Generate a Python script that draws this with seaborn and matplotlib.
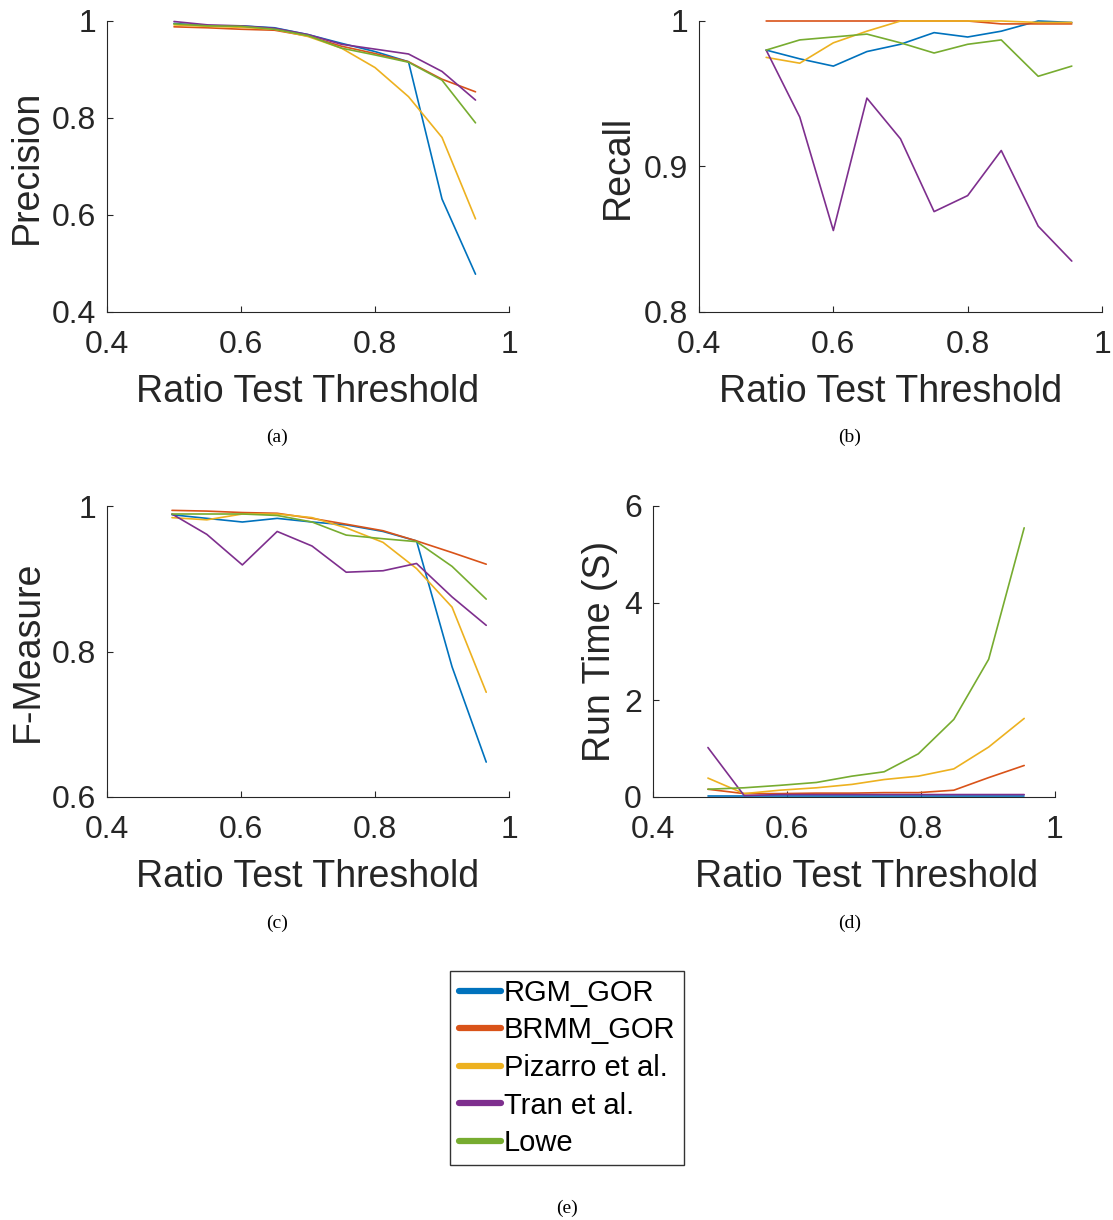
import numpy as np
import pandas as pd
import matplotlib
matplotlib.use("Agg")
import matplotlib.pyplot as plt
import seaborn as sns
from matplotlib.lines import Line2D

sns.set_style("white")
plt.rcParams['font.family'] = ['Liberation Sans', 'DejaVu Sans']

methods = ["RGM_GOR", "BRMM_GOR", "Pizarro et al.", "Tran et al.", "Lowe"]
colors = ["#0072BD", "#D95319", "#EDB120", "#7E2F8E", "#77AC30"]

# x positions (ratio test threshold)
x_prec = [0.50, 0.55, 0.60, 0.65, 0.70, 0.75, 0.80, 0.85, 0.90, 0.95]
x_rec = [0.50, 0.55, 0.60, 0.65, 0.70, 0.75, 0.80, 0.85, 0.905, 0.955]
x_fm = [0.497, 0.549, 0.602, 0.654, 0.706, 0.757, 0.812, 0.862, 0.915, 0.966]
x_rt = [0.482, 0.536, 0.589, 0.644, 0.697, 0.745, 0.796, 0.849, 0.901, 0.954]

# Precision
prec_rgm = [0.995, 0.990, 0.990, 0.986, 0.972, 0.954, 0.937, 0.916, 0.633, 0.478]
prec_brmm = [0.988, 0.986, 0.983, 0.981, 0.969, 0.948, 0.933, 0.916, 0.880, 0.854]
prec_piz = [0.992, 0.989, 0.987, 0.983, 0.968, 0.944, 0.904, 0.844, 0.760, 0.592]
prec_tran = [0.999, 0.992, 0.990, 0.985, 0.972, 0.952, 0.942, 0.932, 0.896, 0.837]
prec_lowe = [0.994, 0.990, 0.989, 0.983, 0.970, 0.944, 0.930, 0.915, 0.878, 0.790]

# Recall
rec_rgm = [0.980, 0.974, 0.969, 0.979, 0.984, 0.992, 0.989, 0.993, 1.000, 0.999]
rec_brmm = [1.000, 1.000, 1.000, 1.000, 1.000, 1.000, 1.000, 0.998, 0.998, 0.998]
rec_piz = [0.975, 0.971, 0.985, 0.993, 1.000, 1.000, 1.000, 1.000, 0.999, 0.999]
rec_tran = [0.980, 0.934, 0.856, 0.947, 0.919, 0.869, 0.880, 0.911, 0.859, 0.835]
rec_lowe = [0.980, 0.987, 0.989, 0.991, 0.985, 0.978, 0.984, 0.987, 0.962, 0.969]

# F-Measure
fm_rgm = [0.988, 0.983, 0.978, 0.983, 0.978, 0.974, 0.965, 0.952, 0.779, 0.648]
fm_brmm = [0.994, 0.993, 0.991, 0.990, 0.983, 0.975, 0.966, 0.952, 0.936, 0.920]
fm_piz = [0.984, 0.981, 0.989, 0.989, 0.984, 0.970, 0.950, 0.914, 0.861, 0.744]
fm_tran = [0.989, 0.961, 0.919, 0.965, 0.945, 0.909, 0.911, 0.921, 0.875, 0.836]
fm_lowe = [0.989, 0.989, 0.989, 0.987, 0.978, 0.960, 0.955, 0.951, 0.917, 0.872]

# Run time (s)
rt_rgm = [0.02, 0.02, 0.02, 0.02, 0.02, 0.02, 0.02, 0.02, 0.02, 0.02]
rt_brmm = [0.16, 0.07, 0.07, 0.08, 0.08, 0.09, 0.09, 0.14, 0.40, 0.65]
rt_piz = [0.39, 0.07, 0.14, 0.19, 0.26, 0.36, 0.43, 0.58, 1.03, 1.62]
rt_tran = [1.02, 0.03, 0.05, 0.05, 0.05, 0.05, 0.05, 0.05, 0.05, 0.05]
rt_lowe = [0.16, 0.19, 0.24, 0.30, 0.43, 0.52, 0.89, 1.60, 2.84, 5.55]


def long_df(x, series):
    rows = []
    for m, vals in zip(methods, series):
        for xi, yi in zip(x, vals):
            rows.append({"x": xi, "y": yi, "method": m})
    return pd.DataFrame(rows)


W, H = 1113, 1220
fig = plt.figure(figsize=(W / 100, H / 100), dpi=100)


def px_axes(l, r, t, b):
    return fig.add_axes([l / W, 1 - b / H, (r - l) / W, (b - t) / H])


panels = [
    dict(box=(107, 509, 21, 312), x=x_prec, s=[prec_rgm, prec_brmm, prec_piz, prec_tran, prec_lowe],
         ylim=(0.4, 1), yt=[0.4, 0.6, 0.8, 1], ytl=["0.4", "0.6", "0.8", "1"], yl="Precision",
         ylx=-0.199, xlx=0.5, cap="(a)", capxy=(277, 437)),
    dict(box=(699, 1102, 21, 312), x=x_rec, s=[rec_rgm, rec_brmm, rec_piz, rec_tran, rec_lowe],
         ylim=(0.8, 1), yt=[0.8, 0.9, 1], ytl=["0.8", "0.9", "1"], yl="Recall",
         ylx=-0.201, xlx=0.476, cap="(b)", capxy=(850, 437)),
    dict(box=(107, 509, 506, 797), x=x_fm, s=[fm_rgm, fm_brmm, fm_piz, fm_tran, fm_lowe],
         ylim=(0.6, 1), yt=[0.6, 0.8, 1], ytl=["0.6", "0.8", "1"], yl="F-Measure",
         ylx=-0.197, xlx=0.5, cap="(c)", capxy=(277, 923)),
    dict(box=(653, 1055, 506, 797), x=x_rt, s=[rt_rgm, rt_brmm, rt_piz, rt_tran, rt_lowe],
         ylim=(0, 6), yt=[0, 2, 4, 6], ytl=["0", "2", "4", "6"], yl="Run Time (S)",
         ylx=-0.132, xlx=0.532, cap="(d)", capxy=(850, 923)),
]

axc = "#262626"
for p in panels:
    ax = px_axes(*p["box"])
    df = long_df(p["x"], p["s"])
    sns.lineplot(data=df, x="x", y="y", hue="method", hue_order=methods,
                 palette=colors, linewidth=1.2, legend=False, ax=ax, sort=True)
    for ln in ax.get_lines():
        ln.set_clip_on(False)
    ax.set_xlim(0.4, 1)
    ax.set_ylim(*p["ylim"])
    ax.set_xticks([0.4, 0.6, 0.8, 1])
    ax.set_xticklabels(["0.4", "0.6", "0.8", "1"])
    ax.set_yticks(p["yt"])
    ax.set_yticklabels(p["ytl"])
    for s in ["top", "right"]:
        ax.spines[s].set_visible(False)
    for s in ["left", "bottom"]:
        ax.spines[s].set_color(axc)
        ax.spines[s].set_linewidth(0.8)
    ax.tick_params(direction="in", length=4, width=0.8, colors=axc, labelsize=23,
                   labelcolor=axc, bottom=True, left=True)
    ax.tick_params(axis="x", pad=13)
    ax.tick_params(axis="y", pad=8)
    ax.set_xlabel("Ratio Test Threshold", fontsize=27, color=axc)
    ax.set_ylabel(p["yl"], fontsize=27, color=axc)
    ax.xaxis.set_label_coords(p["xlx"], -0.275)
    ax.xaxis.label.set_verticalalignment("center")
    ax.yaxis.set_label_coords(p["ylx"], 0.5)
    ax.yaxis.label.set_verticalalignment("center")
    fig.text(p["capxy"][0] / W, 1 - p["capxy"][1] / H, p["cap"], ha="center", va="center",
             fontsize=14, family="Liberation Serif", color="black")

handles = [Line2D([0], [0], color=c, lw=4.5) for c in colors]
leg = fig.legend(handles, methods, loc="center", bbox_to_anchor=(567 / W, 1 - 1068 / H),
                 fontsize=21, frameon=True, fancybox=False, edgecolor="black",
                 handlelength=1.45, handletextpad=0.1, labelspacing=0.33, borderpad=0.28,
                 borderaxespad=0)
leg.get_frame().set_linewidth(1.0)
for t in leg.get_texts():
    t.set_color("black")

fig.text(567 / W, 1 - 1208 / H, "(e)", ha="center", va="center", fontsize=14,
         family="Liberation Serif", color="black")

fig.savefig("out.png", dpi=100, facecolor="white")
